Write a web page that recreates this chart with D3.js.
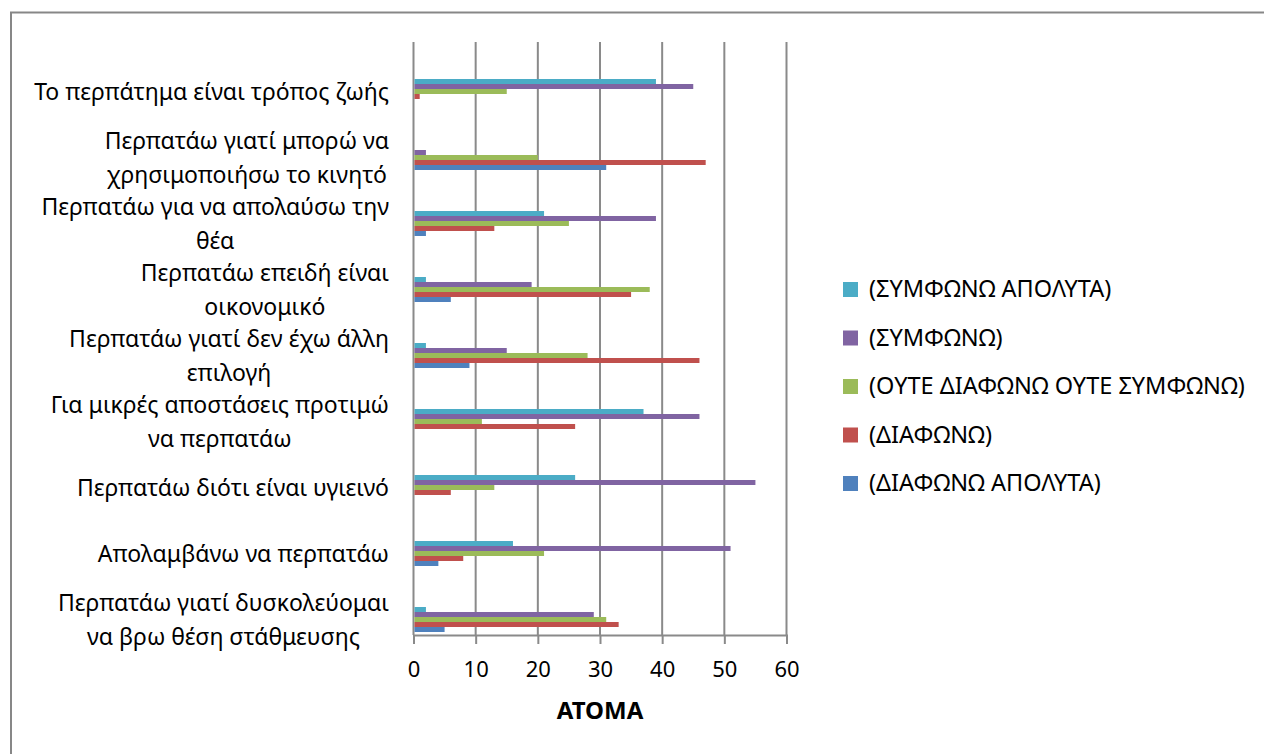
<!DOCTYPE html>
<html>
<head>
<meta charset="utf-8">
<script src="https://cdn.jsdelivr.net/npm/d3@7"></script>
<style>
  html, body { margin: 0; padding: 0; background: #fff; }
  svg { display: block; }
  text { font-family: "Noto Sans", "Open Sans", sans-serif; fill: #000; }
</style>
</head>
<body>
<svg id="chart" width="1264" height="754"></svg>
<script>
// Statements (top to bottom), each as its wrapped lines
const categories = [
  ["Το περπάτημα είναι τρόπος ζωής"],
  ["Περπατάω γιατί μπορώ να", "χρησιμοποιήσω το κινητό"],
  ["Περπατάω για να απολαύσω την", "θέα"],
  ["Περπατάω επειδή είναι", "οικονομικό"],
  ["Περπατάω γιατί δεν έχω άλλη", "επιλογή"],
  ["Για μικρές αποστάσεις προτιμώ", "να περπατάω"],
  ["Περπατάω διότι είναι υγιεινό"],
  ["Απολαμβάνω να περπατάω"],
  ["Περπατάω γιατί δυσκολεύομαι", "να βρω θέση στάθμευσης"]
];

// Number of people per answer, same order as categories
const symfonoApolyta = [39, 0, 21, 2, 2, 37, 26, 16, 2];
const symfono        = [45, 2, 39, 19, 15, 46, 55, 51, 29];
const oute           = [15, 20, 25, 38, 28, 11, 13, 21, 31];
const diafono        = [1, 47, 13, 35, 46, 26, 6, 8, 33];
const diafonoApolyta = [0, 31, 2, 6, 9, 0, 0, 4, 5];

const seriesNames = [
  "(ΣΥΜΦΩΝΩ ΑΠΟΛΥΤΑ)",
  "(ΣΥΜΦΩΝΩ)",
  "(ΟΥΤΕ ΔΙΑΦΩΝΩ ΟΥΤΕ ΣΥΜΦΩΝΩ)",
  "(ΔΙΑΦΩΝΩ)",
  "(ΔΙΑΦΩΝΩ ΑΠΟΛΥΤΑ)"
];
const seriesValues = [symfonoApolyta, symfono, oute, diafono, diafonoApolyta];
const seriesColors = ["#4BACC6", "#8064A2", "#9BBB59", "#C0504D", "#4F81BD"];

const xTicks = [0, 10, 20, 30, 40, 50, 60];
const xTitle = "ΑΤΟΜΑ";

const svg = d3.select("#chart");

// outer frame
svg.append("rect")
  .attr("x", 11).attr("y", 12.5)
  .attr("width", 1300).attr("height", 800)
  .attr("fill", "#fff")
  .attr("stroke", "#878787").attr("stroke-width", 2);

const plotTop = 42, plotBottom = 635;
const x = d3.scaleLinear().domain([0, 60]).range([413.5, 786.5]);
const catIdx = d3.range(categories.length);
const y = d3.scaleBand().domain(catIdx).range([58.5, 652.5]).padding(0);
const inner = d3.scaleBand().domain(d3.range(seriesNames.length)).range([-12.5, 12.5]).padding(0);

// vertical gridlines
svg.append("g").selectAll("line")
  .data(xTicks)
  .join("line")
  .attr("x1", d => x(d)).attr("x2", d => x(d))
  .attr("y1", plotTop).attr("y2", plotBottom)
  .attr("stroke", "#8a8a8a").attr("stroke-width", 2);

// x axis
const xAxis = svg.append("g")
  .attr("transform", `translate(0,${plotBottom})`)
  .call(d3.axisBottom(x).tickValues(xTicks).tickSize(9).tickPadding(17).tickFormat(d3.format("d")));
xAxis.select(".domain").attr("stroke", "#8a8a8a").attr("stroke-width", 2);
xAxis.selectAll(".tick line").attr("stroke", "#8a8a8a").attr("stroke-width", 2);
xAxis.selectAll(".tick text")
  .attr("font-size", 22).attr("font-family", "Noto Sans, sans-serif").attr("fill", "#000");

svg.append("text")
  .attr("x", 600).attr("y", 719)
  .attr("text-anchor", "middle")
  .attr("font-size", 24).attr("font-weight", "bold")
  .text(xTitle);

// bars
const bars = svg.append("g");
seriesValues.forEach((vals, s) => {
  bars.selectAll(null)
    .data(vals.map((v, i) => ({ v, i })))
    .join("rect")
    .attr("x", x(0) + 1)
    .attr("y", d => y(d.i) + y.bandwidth() / 2 + inner(s))
    .attr("width", d => Math.max(0, x(d.v) - x(0) - 1))
    .attr("height", inner.bandwidth())
    .attr("fill", seriesColors[s]);
});

// category labels: block right-aligned, lines centred within the block
const labelRight = 389;
const lineH = 34;
const labels = svg.append("g").attr("font-size", 23);
categories.forEach((lines, i) => {
  const cy = y(i) + y.bandwidth() / 2;
  const g = labels.append("g");
  const texts = lines.map((ln, k) => g.append("text")
    .attr("y", cy + (k - (lines.length - 1) / 2) * lineH)
    .attr("dy", "0.35em")
    .attr("text-anchor", "middle")
    .text(ln));
  const maxW = d3.max(texts, t => t.node().getComputedTextLength());
  texts.forEach(t => t.attr("x", labelRight - maxW / 2));
});

// legend
const legend = svg.append("g");
seriesNames.forEach((name, s) => {
  const cy = 289 + s * 48.5;
  legend.append("rect")
    .attr("x", 843).attr("y", cy - 7)
    .attr("width", 15).attr("height", 15)
    .attr("fill", seriesColors[s]);
  legend.append("text")
    .attr("x", 869).attr("y", cy)
    .attr("dy", "0.35em")
    .attr("font-size", 23.5)
    .text(name);
});
</script>
</body>
</html>
